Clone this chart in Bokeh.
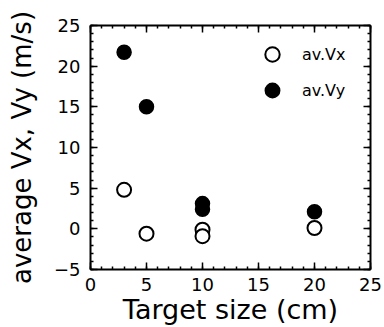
from bokeh.plotting import figure
from bokeh.models import LinearAxis, FixedTicker, Legend, LegendItem, Range1d
from bokeh.embed import file_html
from bokeh.resources import INLINE

# data
vx_size = [3, 5, 10, 10, 20]
vx_val = [4.8, -0.6, -0.1, -0.9, 0.1]
vy_size = [3, 5, 10, 10, 20]
vy_val = [21.7, 15.0, 3.1, 2.4, 2.1]
x_ticks = [0, 5, 10, 15, 20, 25]
y_ticks = [-5, 0, 5, 10, 15, 20, 25]

FONT = "DejaVu Sans"

p = figure(frame_width=280, frame_height=244, output_backend="svg", toolbar_location=None,
           x_range=Range1d(0, 25), y_range=Range1d(-5, 25),
           x_axis_location=None, y_axis_location=None,
           min_border_left=90, min_border_right=14, min_border_top=25, min_border_bottom=58)
p.grid.visible = False
p.outline_line_color = None
p.background_fill_color = "white"
p.border_fill_color = "white"

def style(ax, labels=True):
    ax.axis_line_width = 2
    ax.axis_line_color = "black"
    ax.major_tick_in = 7
    ax.major_tick_out = 0
    ax.minor_tick_in = 3
    ax.minor_tick_out = 0
    ax.major_tick_line_width = 1.5
    ax.minor_tick_line_width = 1.5
    ax.major_tick_line_color = "black"
    ax.minor_tick_line_color = "black"
    ax.major_label_text_font = FONT
    ax.major_label_text_font_size = "18px"
    ax.major_label_text_color = "black"
    ax.axis_label_text_font = FONT
    ax.axis_label_text_font_style = "normal"
    ax.axis_label_text_color = "black"
    if not labels:
        ax.major_label_text_font_size = "0px"
        ax.major_label_text_color = None
        ax.major_label_standoff = 0

xt = FixedTicker(ticks=x_ticks, minor_ticks=list(range(0, 26)))
yt = FixedTicker(ticks=y_ticks, minor_ticks=list(range(-5, 26)))

xb = LinearAxis(ticker=xt, axis_label="Target size (cm)")
style(xb)
xb.major_label_standoff = 8
xb.axis_label_standoff = 0
xb.axis_label_text_font_size = "27px"
p.add_layout(xb, "below")

yl = LinearAxis(ticker=yt, axis_label="average Vx, Vy (m/s)")
style(yl)
yl.major_label_standoff = 10
yl.axis_label_standoff = 14
yl.axis_label_text_font_size = "26px"
p.add_layout(yl, "left")

xa = LinearAxis(ticker=xt)
style(xa, labels=False)
p.add_layout(xa, "above")

yr = LinearAxis(ticker=yt)
style(yr, labels=False)
p.add_layout(yr, "right")

r1 = p.scatter(vx_size, vx_val, marker="circle", size=14, fill_color="white",
               line_color="black", line_width=2)
r2 = p.scatter(vy_size, vy_val, marker="circle", size=14, fill_color="black",
               line_color="black", line_width=1.5)

legend = Legend(items=[LegendItem(label="av.Vx", renderers=[r1]),
                       LegendItem(label="av.Vy", renderers=[r2])],
                location=(164, 161), padding=0, margin=0, spacing=-8,
                glyph_width=36, glyph_height=36, label_standoff=12,
                label_text_font=FONT, label_text_font_size="16px",
                label_text_color="black",
                border_line_color=None, background_fill_alpha=0)
p.add_layout(legend, "center")

open("out.html", "w").write(file_html(p, INLINE))
